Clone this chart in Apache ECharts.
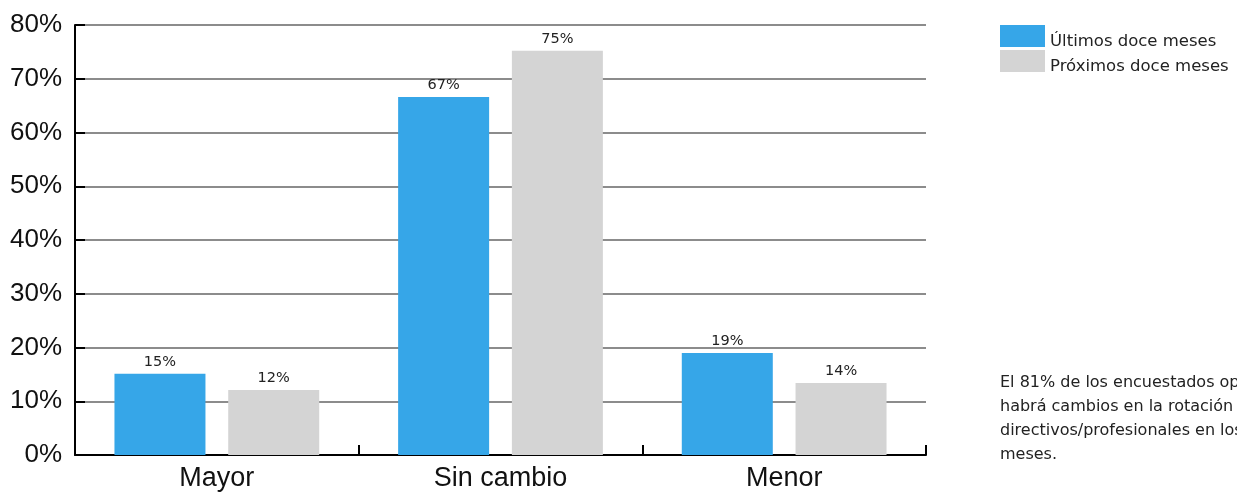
<!DOCTYPE html>
<html><head><meta charset="utf-8">
<script src="https://cdn.jsdelivr.net/npm/echarts@6/dist/echarts.min.js"></script>
<style>html,body{margin:0;padding:0;background:#fff}#c{width:1237px;height:495px}</style>
</head><body><div id="c"></div>
<script>
var categories = ['Mayor', 'Sin cambio', 'Menor'];
var seriesNames = ['Últimos doce meses', 'Próximos doce meses'];
var ultimos = [15.1, 66.6, 19.0];
var proximos = [12.1, 75.2, 13.4];
var ultimosLabels = ['15%', '67%', '19%'];
var proximosLabels = ['12%', '75%', '14%'];
var note = 'El 81% de los encuestados opina que no\nhabrá cambios en la rotación de\ndirectivos/profesionales en los próximos doce\nmeses.';

var chart = echarts.init(document.getElementById('c'));
var font = '"Liberation Sans", Arial, sans-serif';
var font2 = '"DejaVu Sans", Verdana, sans-serif';
function lbl(arr){return {show:true,position:'top',distance:4,fontFamily:font2,fontSize:14.5,color:'#222',formatter:function(p){return arr[p.dataIndex];}};}
chart.setOption({
  animation:false,
  grid:{left:75,right:311,top:25,bottom:40},
  legend:{orient:'vertical',left:995,top:20,itemWidth:45,itemHeight:22,itemGap:0,
    formatter:function(n){return '{a|'+n+'}';},
    textStyle:{fontFamily:font2,fontSize:16.5,color:'#222',
      rich:{a:{fontFamily:font2,fontSize:16.5,color:'#222',padding:[11,0,0,0]}}},
    icon:'rect',data:seriesNames},
  graphic:[{type:'text',left:1000,top:371,style:{text:note,fontFamily:font2,fontSize:16,lineHeight:24,fill:'#222'}}],
  xAxis:{type:'category',data:categories,
    axisLine:{lineStyle:{color:'#000',width:2}},
    axisTick:{show:true,inside:true,length:10,lineStyle:{color:'#000',width:2}},
    axisLabel:{fontFamily:font,fontSize:27,color:'#111',margin:10}},
  yAxis:{type:'value',min:0,max:80,interval:10,
    axisLine:{show:true,lineStyle:{color:'#000',width:2}},
    axisTick:{show:true,inside:true,length:10,lineStyle:{color:'#000',width:2}},
    splitLine:{lineStyle:{color:'#666',width:1.5}},
    axisLabel:{fontFamily:font,fontSize:26,color:'#111',margin:13,formatter:'{value}%'}},
  series:[
    {name:seriesNames[0],type:'bar',data:ultimos,barWidth:91,barGap:'25%',itemStyle:{color:'#36A6E8'},label:lbl(ultimosLabels)},
    {name:seriesNames[1],type:'bar',data:proximos,barWidth:91,itemStyle:{color:'#D4D4D4'},label:lbl(proximosLabels)}
  ]
});
</script></body></html>
